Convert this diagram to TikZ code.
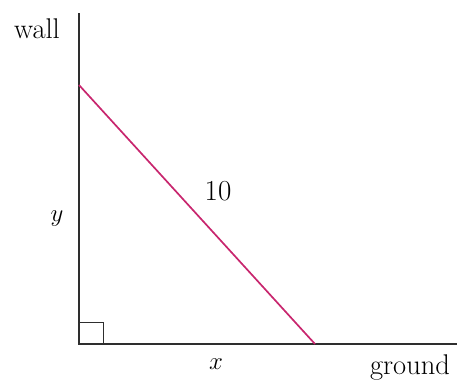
\documentclass[tikz,border=0pt]{standalone}
\usetikzlibrary{positioning}
\definecolor{ink}{HTML}{2E2E2E}
\definecolor{ladder}{HTML}{C8266E}
\tikzset{
  axisline/.style={draw=ink,line width=1.3pt},
  ladderline/.style={draw=ladder,line width=1.7pt},
  corner/.style={draw=ink,line width=1pt},
  lbl/.style={font=\fontsize{28.5}{34}\selectfont,inner sep=0pt},
  mlbl/.style={font=\fontsize{29}{34}\selectfont,inner sep=0pt}
}
\begin{document}
\begin{tikzpicture}[x=1pt,y=-1pt]
  \useasboundingbox (0,0) rectangle (457,384);
  % wall, ground and ladder
  \coordinate (o) at (79,344);
  \coordinate (walltop) at (79,13);
  \coordinate (groundend) at (457,344);
  \coordinate (top) at (79,85);
  \coordinate (foot) at (315,344);
  \coordinate (sq) at (103,322);
  \draw[axisline] (walltop) -- (o) -- (groundend);
  \draw[corner] (o |- sq) -| (sq |- o);
  \draw[ladderline] (top) -- (foot);

  % labels
  \node[lbl] (wall) at (37,29) {wall};
  \node[lbl] (ground) at (410,368) {ground};
  \node[mlbl] (len) at (218,191) {10};
  \node[mlbl] (yl) at (57,219) {$y$};
  \node[mlbl] (xl) at (216,364) {$x$};
\end{tikzpicture}
\end{document}
